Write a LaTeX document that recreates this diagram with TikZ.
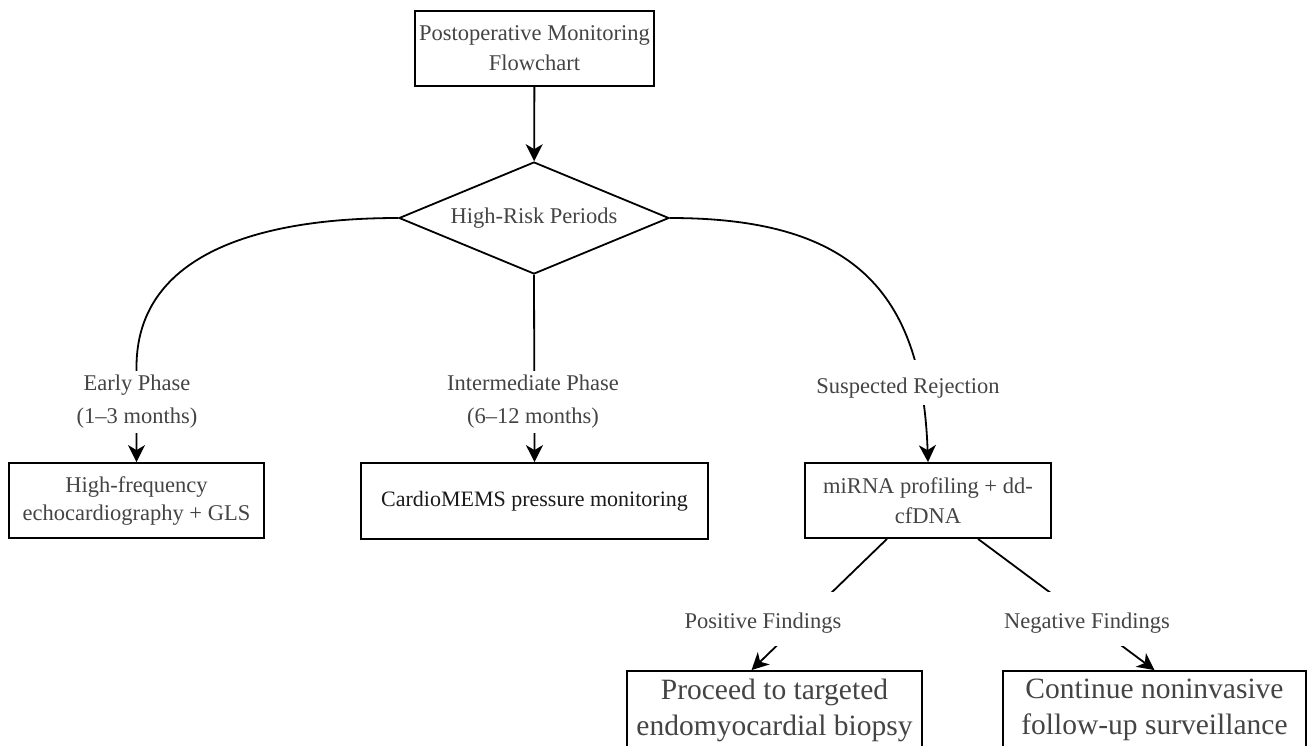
\documentclass[tikz,border=0pt]{standalone}
\usepackage{fontspec}
\setmainfont{Liberation Serif}
\usetikzlibrary{shapes.geometric,arrows.meta,calc}
\definecolor{txtgray}{HTML}{444444}
\definecolor{txtdark}{HTML}{1A1A1A}
\begin{document}
\begin{tikzpicture}[x=1pt,y=-1pt,
  box/.style={draw=black, line width=1.8pt, rectangle, inner sep=0pt, align=center, text=txtgray},
  lbl/.style={fill=white, inner xsep=1pt, inner ysep=4pt, align=center, text=txtgray, font=\fontsize{22.5}{33}\selectfont},
  conn/.style={draw=black, line width=1.8pt},
  arr/.style={conn, -{Stealth[length=17pt,width=17pt,inset=5pt]}}
]
\useasboundingbox (0,0) rectangle (1309,745);
\clip (0,0) rectangle (1309,745);

% boxes
\node[box, minimum width=239pt, minimum height=75pt, font=\fontsize{22.5}{30}\selectfont] (top) at (534.5,48.5) {Postoperative Monitoring\\Flowchart};
\node[draw=black, diamond, aspect=2.4, line width=1.8pt, minimum width=270pt, minimum height=112pt, inner sep=0pt, text=txtgray, font=\fontsize{22.5}{27}\selectfont] (dia) at (534,218) {High-Risk Periods};
\node[box, minimum width=255pt, minimum height=75pt, font=\fontsize{22.5}{28}\selectfont] (early) at (136.5,500.5) {High-frequency\\echocardiography + GLS};
\node[box, minimum width=347pt, minimum height=76pt, text=txtdark, font=\fontsize{22}{27}\selectfont] (cardio) at (534.5,501) {CardioMEMS pressure monitoring};
\node[box, minimum width=246pt, minimum height=75pt, font=\fontsize{22.5}{30}\selectfont] (mirna) at (928,500.5) {miRNA profiling + dd-\\cfDNA};
\node[box, minimum width=295pt, minimum height=78pt, font=\fontsize{29.5}{36}\selectfont] (pos) at (774.5,710) {Proceed to targeted\\endomyocardial biopsy};
\node[box, minimum width=303pt, minimum height=78pt, font=\fontsize{29.5}{36}\selectfont] (neg) at (1154.5,710) {Continue noninvasive\\follow-up surveillance};

% connectors
\draw[arr] (top) -- (dia);
\draw[arr] (dia.west) .. controls ($(dia.west)+(-150,0)$) and ($(early.north)+(0,-203)$) .. ($(early.north)+(0,-95)$) -- (early.north);
\draw[arr] (dia.south) -- (cardio.north);
\draw[arr] (dia.east) .. controls ($(dia.east)+(181,0)$) and ($(mirna.north)+(-6,-173)$) .. (mirna.north);
\draw[arr] ($(mirna.south)+(-41,0)$) -- ($(pos.north)+(-23,0)$);
\draw[arr] ($(mirna.south)+(50,0)$) -- (neg.north);

% labels on connectors
\node[lbl] (el) at (137,402) {Early Phase\\(1–3 months)};
\node[lbl] (il) at (533,402) {Intermediate Phase\\(6–12 months)};
\node[lbl, anchor=base, text height=26pt, text depth=5pt, inner ysep=7pt] (sl) at (908,393) {Suspected Rejection};
\node[lbl, anchor=base, text height=23pt, text depth=5pt, inner ysep=13pt] (pl) at (763,628) {Positive Findings};
\node[lbl, anchor=base, text height=23pt, text depth=5pt, inner ysep=13pt] (nl) at (1087,628) {Negative Findings};
\end{tikzpicture}
\end{document}
